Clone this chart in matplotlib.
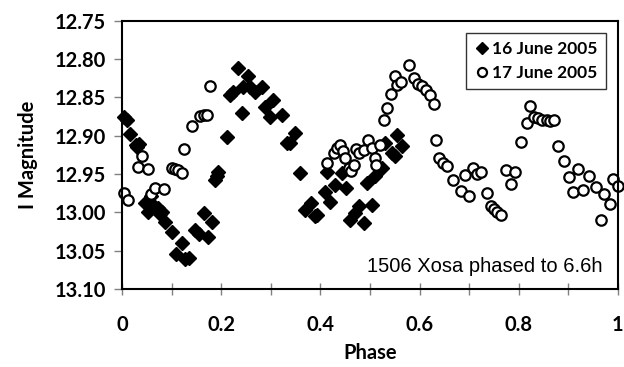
import matplotlib
matplotlib.use('Agg')
import matplotlib.pyplot as plt
from matplotlib.ticker import MultipleLocator, FixedLocator

# 16 June 2005 (filled diamonds)
phase_16 = [0.003, 0.009, 0.016, 0.027, 0.034, 0.030, 0.045, 0.051, 0.058, 0.061,
            0.073, 0.080, 0.076, 0.086, 0.100, 0.120, 0.109, 0.127, 0.135, 0.147,
            0.154, 0.164, 0.173, 0.181, 0.187, 0.191, 0.194, 0.211, 0.218, 0.224,
            0.233, 0.241, 0.244, 0.253, 0.258, 0.268, 0.282, 0.288, 0.299, 0.305,
            0.322, 0.332, 0.339, 0.349, 0.359, 0.369, 0.380, 0.389, 0.393, 0.410,
            0.413, 0.420, 0.430, 0.444, 0.452, 0.460, 0.469, 0.477, 0.487, 0.494,
            0.504, 0.511, 0.524, 0.531, 0.545, 0.550, 0.555, 0.565]
mag_16 = [12.875, 12.879, 12.898, 12.912, 12.911, 12.915, 12.988, 12.999, 12.979, 12.990,
          12.994, 12.999, 13.002, 13.012, 13.026, 13.040, 13.054, 13.061, 13.060, 13.023,
          13.028, 13.001, 13.032, 13.013, 12.958, 12.952, 12.947, 12.902, 12.847, 12.843,
          12.812, 12.870, 12.836, 12.822, 12.836, 12.843, 12.837, 12.862, 12.875, 12.854,
          12.873, 12.910, 12.909, 12.896, 12.948, 12.997, 12.988, 13.005, 13.003, 12.973,
          12.947, 12.986, 12.964, 12.949, 12.968, 13.010, 13.001, 12.992, 13.014, 12.962,
          12.990, 12.952, 12.942, 12.910, 12.923, 12.927, 12.899, 12.914]

# 17 June 2005 (open circles)
phase_17 = [0.003, 0.012, 0.039, 0.031, 0.051, 0.058, 0.066, 0.085, 0.100, 0.106,
            0.112, 0.120, 0.125, 0.140, 0.157, 0.164, 0.170, 0.177,
            0.413, 0.427, 0.434, 0.440, 0.445, 0.450, 0.457, 0.462, 0.467, 0.472,
            0.477, 0.487, 0.496, 0.504, 0.511, 0.513, 0.521, 0.528, 0.534, 0.543,
            0.550, 0.555, 0.563, 0.578, 0.589, 0.597, 0.604, 0.612, 0.622, 0.630,
            0.634, 0.640, 0.647, 0.656, 0.667, 0.683, 0.692, 0.699, 0.707, 0.715,
            0.723, 0.736, 0.744, 0.750, 0.757, 0.764, 0.774, 0.784, 0.793, 0.804,
            0.816, 0.822, 0.831, 0.840, 0.848, 0.857, 0.864, 0.872, 0.880, 0.892,
            0.901, 0.910, 0.919, 0.929, 0.942, 0.956, 0.966, 0.973, 0.984, 0.991,
            1.000]
mag_17 = [12.975, 12.984, 12.926, 12.941, 12.943, 12.976, 12.968, 12.970, 12.942, 12.944,
          12.945, 12.948, 12.917, 12.887, 12.874, 12.873, 12.873, 12.835,
          12.936, 12.923, 12.916, 12.912, 12.920, 12.929, 12.942, 12.946, 12.938, 12.917,
          12.923, 12.919, 12.906, 12.916, 12.929, 12.938, 12.912, 12.879, 12.864, 12.845,
          12.822, 12.834, 12.830, 12.808, 12.825, 12.832, 12.835, 12.840, 12.847, 12.859,
          12.905, 12.929, 12.935, 12.939, 12.958, 12.972, 12.951, 12.979, 12.942, 12.950,
          12.947, 12.975, 12.992, 12.995, 12.999, 13.004, 12.945, 12.963, 12.947, 12.908,
          12.883, 12.861, 12.875, 12.877, 12.879, 12.880, 12.881, 12.879, 12.913, 12.933,
          12.954, 12.973, 12.944, 12.971, 12.952, 12.967, 13.010, 12.976, 12.989, 12.957,
          12.965]

y_ticks = [12.75, 12.80, 12.85, 12.90, 12.95, 13.00, 13.05, 13.10]

FONT = ['Lato', 'DejaVu Sans']

fig = plt.figure(figsize=(6.24, 3.67), dpi=100)
ax = fig.add_axes([0.196, 0.2125, 0.794, 0.731])

ax.plot(phase_16, mag_16, linestyle='none', marker='D', markersize=7.5,
        color='black', label='16 June 2005', clip_on=False)
ax.plot(phase_17, mag_17, linestyle='none', marker='o', markersize=7.5,
        markerfacecolor='white', markeredgecolor='black', markeredgewidth=1.6,
        label='17 June 2005', clip_on=False)

ax.set_xlim(0, 1)
ax.set_ylim(13.10, 12.75)
ax.xaxis.set_major_locator(MultipleLocator(0.2))
ax.xaxis.set_minor_locator(MultipleLocator(0.1))
ax.yaxis.set_major_locator(FixedLocator(y_ticks))
ax.xaxis.set_major_formatter(plt.FuncFormatter(lambda v, p: '%g' % round(v, 1)))
ax.yaxis.set_major_formatter(plt.FuncFormatter(lambda v, p: '%.2f' % v))

for s in ax.spines.values():
    s.set_linewidth(1.5)
    s.set_color('black')

ax.tick_params(axis='x', which='both', direction='inout', length=9, width=1,
               color='#808080', pad=14)
ax.tick_params(axis='y', which='major', direction='out', length=6, width=1,
               color='#808080', pad=6)
for lab in ax.get_xticklabels() + ax.get_yticklabels():
    lab.set_family(FONT)
    lab.set_fontweight('bold')
    lab.set_fontsize(14.5)

ax.set_xlabel('Phase', family=FONT, fontweight='bold', fontsize=14.5, labelpad=6)
ax.set_ylabel('I Magnitude', family=FONT, fontweight='bold', fontsize=14.5, labelpad=12)

leg = ax.legend(loc='upper right', bbox_to_anchor=(0.993, 0.985), handletextpad=0.1,
                handlelength=1.0, borderpad=0.45, labelspacing=0.45, fancybox=False,
                prop={'family': FONT, 'weight': 'bold', 'size': 12.5})
leg.get_frame().set_edgecolor('black')
leg.get_frame().set_linewidth(1.0)
for h in leg.legend_handles:
    h.set_markersize(6.5)

ax.text(0.97, 0.085, '1506 Xosa phased to 6.6h', transform=ax.transAxes,
        ha='right', va='center', fontsize=14.5, family=['Liberation Sans', 'DejaVu Sans'])

fig.savefig('out.png', dpi=100)
